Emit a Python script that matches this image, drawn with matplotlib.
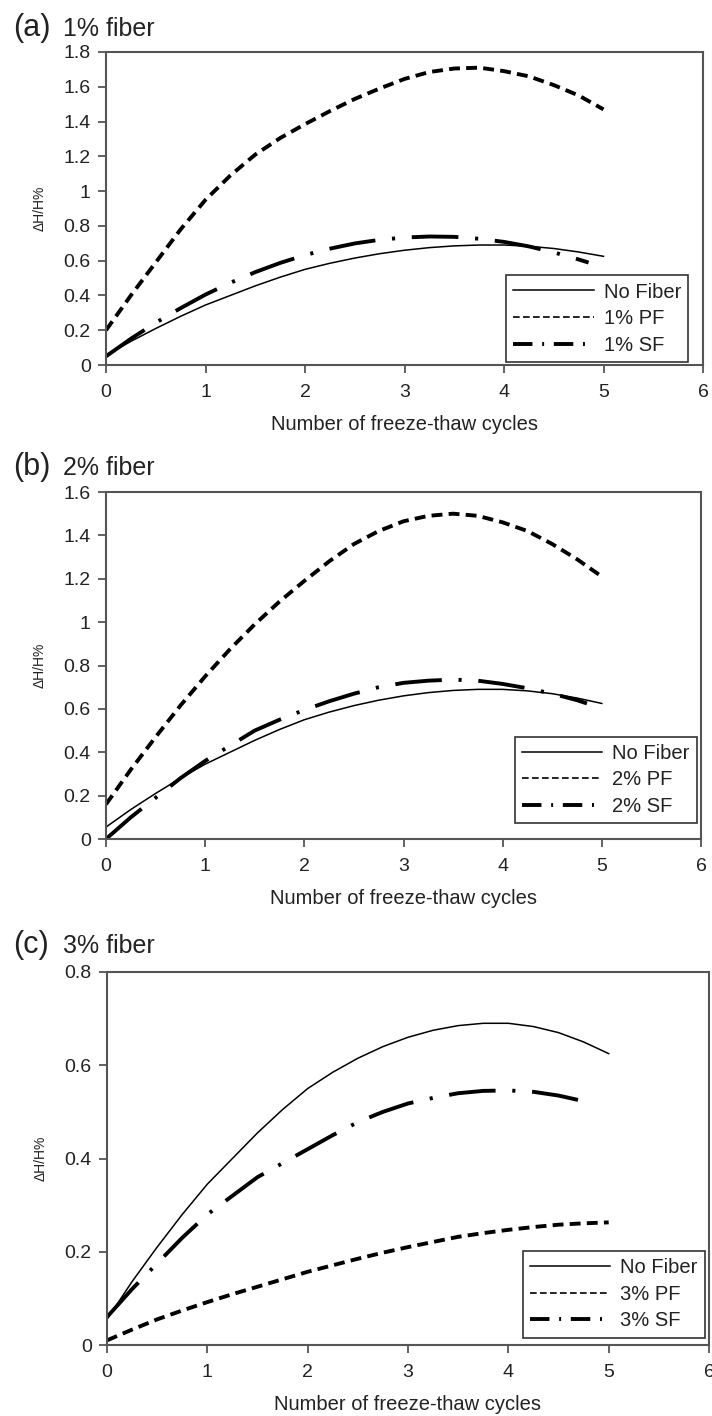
import matplotlib
matplotlib.use("Agg")
import matplotlib.pyplot as plt
from matplotlib.lines import Line2D
from matplotlib.ticker import FuncFormatter

plt.rcParams['font.family'] = ['Liberation Sans', 'DejaVu Sans']

# cycles (x) read at quarter-cycle steps
cycles = [0, 0.25, 0.5, 0.75, 1, 1.25, 1.5, 1.75, 2, 2.25, 2.5,
          2.75, 3, 3.25, 3.5, 3.75, 4, 4.25, 4.5, 4.75, 5]
cycles_sf = [0, 0.25, 0.5, 0.75, 1, 1.25, 1.5, 1.75, 2, 2.25, 2.5,
             2.75, 3, 3.25, 3.5, 3.75, 4, 4.25, 4.5, 4.75, 4.85]

# control, same in all panels
no_fiber = [0.055, 0.136, 0.21, 0.28, 0.345, 0.40, 0.455, 0.505, 0.55, 0.585, 0.615,
            0.64, 0.66, 0.675, 0.685, 0.69, 0.69, 0.683, 0.67, 0.65, 0.625]

# (a) 1% fiber
pf_1 = [0.20, 0.40, 0.59, 0.78, 0.95, 1.09, 1.21, 1.305, 1.385, 1.46, 1.53,
        1.59, 1.645, 1.685, 1.705, 1.71, 1.69, 1.66, 1.61, 1.55, 1.47]
sf_1 = [0.05, 0.151, 0.243, 0.327, 0.405, 0.473, 0.534, 0.587, 0.632, 0.669, 0.699,
        0.72, 0.733, 0.739, 0.737, 0.726, 0.708, 0.682, 0.648, 0.607, 0.589]

# (b) 2% fiber
pf_2 = [0.16, 0.32, 0.47, 0.615, 0.75, 0.875, 0.99, 1.095, 1.19, 1.28, 1.36,
        1.42, 1.465, 1.49, 1.50, 1.49, 1.46, 1.42, 1.36, 1.29, 1.21]
sf_2 = [0.0, 0.10, 0.19, 0.28, 0.36, 0.43, 0.50, 0.55, 0.595, 0.635, 0.67,
        0.70, 0.72, 0.73, 0.735, 0.73, 0.715, 0.695, 0.67, 0.64, 0.625]

# (c) 3% fiber
pf_3 = [0.01, 0.033, 0.055, 0.074, 0.092, 0.109, 0.125, 0.141, 0.157, 0.171, 0.185,
        0.198, 0.21, 0.221, 0.232, 0.24, 0.247, 0.253, 0.258, 0.261, 0.263]
sf_3 = [0.06, 0.12, 0.175, 0.23, 0.28, 0.32, 0.36, 0.39, 0.42, 0.45, 0.478,
        0.50, 0.518, 0.53, 0.54, 0.545, 0.546, 0.543, 0.535, 0.523, 0.515]

panels = [
    ("(a)", "1% fiber", "1%", pf_1, sf_1, 1.8),
    ("(b)", "2% fiber", "2%", pf_2, sf_2, 1.6),
    ("(c)", "3% fiber", "3%", pf_3, sf_3, 0.8),
]

W, H = 712, 1416
fig = plt.figure(figsize=(W / 100, H / 100), dpi=100)

# axes boxes in pixels: left, right, top, bottom
boxes = [(106, 703, 52, 365), (106, 701, 492, 839), (107, 709, 972, 1345)]
legend_anchor = [(0.975, 0.01), (0.993, 0.046), (0.993, 0.02)]
title_base = [36, 475, 953]

txt = '#222222'
spine_c = '#555555'

for i, (tag, name, pct, pf, sf, ymax) in enumerate(panels):
    l, r, t, b = boxes[i]
    ax = fig.add_axes([l / W, 1 - b / H, (r - l) / W, (b - t) / H])

    ax.plot(cycles, no_fiber, color='black', lw=1.1)
    ax.plot(cycles, pf, color='black', lw=2.8, linestyle=(0, (2.8, 1.6)))
    ax.plot(cycles_sf, sf, color='black', lw=2.8,
            linestyle=(0, (12, 4.3, 0.8, 4.3)))

    ax.set_xlim(0, 6)
    ax.set_ylim(0, ymax)
    ax.set_xticks(range(7))
    n = int(round(ymax / 0.2))
    ax.set_yticks([k * 0.2 for k in range(n + 1)])
    ax.yaxis.set_major_formatter(FuncFormatter(lambda v, p: f"{v:g}"))

    for s in ax.spines.values():
        s.set_color(spine_c)
        s.set_linewidth(1.5)
    ax.tick_params(direction='out', length=6, width=1.3, color=spine_c,
                   labelsize=14, labelcolor=txt, pad=5)
    ax.tick_params(axis='x', pad=8)

    ax.set_xlabel("Number of freeze-thaw cycles", fontsize=14.5, color=txt,
                  labelpad=10)
    ax.set_ylabel("\u0394H/H%", fontsize=10, color=txt, labelpad=12)

    handles = [
        Line2D([], [], color='black', lw=1.1),
        Line2D([], [], color='black', lw=1.2, linestyle=(0, (4, 2))),
        Line2D([], [], color='black', lw=2.8, linestyle=(0, (5, 2.5, 0.5, 2.5))),
    ]
    labels = ["No Fiber", pct + " PF", pct + " SF"]
    leg = ax.legend(handles, labels, loc='lower right',
                    bbox_to_anchor=legend_anchor[i], borderaxespad=0,
                    fontsize=14.5, handlelength=4.0, labelspacing=0.38,
                    handletextpad=0.5, borderpad=0.35, fancybox=False,
                    framealpha=1, edgecolor='#333333')
    leg.get_frame().set_linewidth(1.2)
    for tx in leg.get_texts():
        tx.set_color(txt)

    yb = 1 - title_base[i] / H
    fig.text(13 / W, yb, tag, fontsize=22, color=txt, va='baseline')
    fig.text(63 / W, yb, name, fontsize=18, color=txt, va='baseline')

fig.savefig("out.png", dpi=100)
